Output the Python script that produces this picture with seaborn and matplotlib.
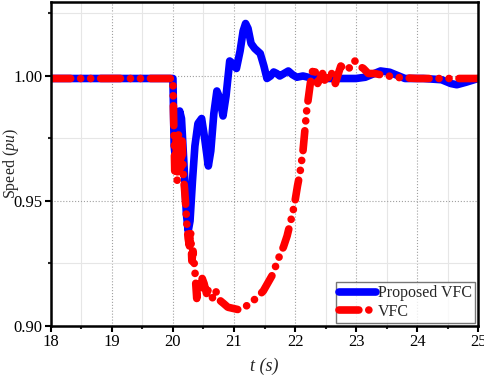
import pandas as pd
import seaborn as sns
import matplotlib.pyplot as plt
from matplotlib.ticker import MultipleLocator

# values
t_prop = [18.0, 20.0, 20.02, 20.05, 20.08, 20.11, 20.14, 20.18, 20.22, 20.25,
          20.28, 20.32, 20.36, 20.41, 20.47, 20.52, 20.58, 20.62, 20.67, 20.72,
          20.77, 20.82, 20.87, 20.93, 20.98, 21.04, 21.1, 21.15, 21.19, 21.23,
          21.28, 21.34, 21.43, 21.49, 21.54, 21.6, 21.65, 21.7, 21.75, 21.82,
          21.89, 21.96, 22.03, 22.13, 22.3, 22.6, 23.0, 23.15, 23.3, 23.4,
          23.55, 23.8, 24.1, 24.4, 24.55, 24.65, 24.8, 25.0]
speed_prop = [0.999, 0.999, 0.972, 0.965, 0.978, 0.986, 0.983, 0.965, 0.945, 0.938,
              0.942, 0.958, 0.972, 0.981, 0.983, 0.975, 0.964, 0.970, 0.985, 0.994,
              0.991, 0.984, 0.992, 1.006, 1.005, 1.003, 1.010, 1.018, 1.021, 1.019,
              1.013, 1.011, 1.009, 1.004, 0.999, 1.000, 1.0016, 1.001, 1.000, 1.001,
              1.002, 1.0005, 0.9995, 1.000, 0.999, 0.999, 0.999, 0.9995, 1.001, 1.002,
              1.0015, 0.999, 0.999, 0.9985, 0.997, 0.9965, 0.9975, 0.999]

t_vfc = [18.0, 20.0, 20.01, 20.03, 20.05, 20.07, 20.09, 20.11, 20.13, 20.15,
         20.17, 20.19, 20.21, 20.23, 20.25, 20.27, 20.29, 20.31, 20.33, 20.36,
         20.39, 20.42, 20.45, 20.48, 20.51, 20.55, 20.58, 20.62, 20.66, 20.7,
         20.74, 20.78, 20.83, 20.9, 20.99, 21.08, 21.18, 21.25, 21.31, 21.4,
         21.48, 21.55, 21.62, 21.7, 21.76, 21.81, 21.87, 21.92, 21.96, 22.0,
         22.04, 22.08, 22.13, 22.19, 22.25, 22.3, 22.34, 22.37, 22.41, 22.45,
         22.49, 22.52, 22.55, 22.58, 22.62, 22.66, 22.71, 22.75, 22.8, 22.85,
         22.9, 22.98, 23.05, 23.12, 23.2, 23.3, 23.4, 23.5, 23.6, 23.75,
         24.0, 24.5, 25.0]
speed_vfc = [0.999, 0.999, 0.985, 0.962, 0.975, 0.958, 0.977, 0.970, 0.962, 0.974,
             0.960, 0.955, 0.948, 0.940, 0.935, 0.932, 0.938, 0.926, 0.930, 0.922,
             0.911, 0.918, 0.915, 0.919, 0.917, 0.913, 0.9145, 0.912, 0.911, 0.914,
             0.912, 0.910, 0.909, 0.9075, 0.907, 0.9065, 0.9075, 0.909, 0.910, 0.912,
             0.914, 0.917, 0.920, 0.925, 0.929, 0.9316, 0.936, 0.941, 0.945, 0.950,
             0.956, 0.961, 0.970, 0.986, 0.997, 1.0036, 1.001, 0.997, 0.999, 1.001,
             0.998, 0.997, 1.000, 1.002, 1.000, 0.997, 1.001, 1.004, 1.003, 1.004,
             1.003, 1.006, 1.004, 1.003, 1.001, 1.001, 1.0005, 1.0003, 0.9995, 0.9993,
             0.999, 0.999, 0.999]

sns.set_style("white")
plt.rcParams['font.family'] = ['Liberation Serif', 'DejaVu Serif']
plt.rcParams['mathtext.fontset'] = 'custom'
plt.rcParams['mathtext.it'] = 'Liberation Serif:italic'
plt.rcParams['mathtext.rm'] = 'Liberation Serif'

df_prop = pd.DataFrame({'t': t_prop, 'speed': speed_prop})
df_vfc = pd.DataFrame({'t': t_vfc, 'speed': speed_vfc})

fig = plt.figure(figsize=(4.84, 3.75), dpi=100)
ax = fig.add_axes([0.105, 0.1307, 0.883, 0.864])

sns.lineplot(data=df_prop, x='t', y='speed', color='#0000ff', lw=5.5,
             label='Proposed VFC', estimator=None, sort=False, ax=ax)
sns.lineplot(data=df_vfc, x='t', y='speed', color='#ff0000', lw=5.5,
             label='VFC', estimator=None, sort=False, ax=ax)

dash = (2.6, 1.3, 0.01, 1.3, 0.01, 1.3)
red = ax.get_lines()[1]
red.set_dashes(dash)
red.set_dash_capstyle('round')
ax.get_lines()[0].set_solid_capstyle('round')

ax.set_xlim(18, 25)
ax.set_ylim(0.90, 1.0296)
ax.xaxis.set_major_locator(MultipleLocator(1))
ax.xaxis.set_minor_locator(MultipleLocator(0.5))
ax.yaxis.set_major_locator(MultipleLocator(0.05))
ax.yaxis.set_minor_locator(MultipleLocator(0.025))
ax.yaxis.set_major_formatter(plt.FormatStrFormatter('%.2f'))

ax.grid(which='major', color='#a0a0a0', linestyle=':', lw=0.8)
ax.grid(which='minor', color='#e6e6e6', linestyle='-', lw=0.8)
ax.set_axisbelow(True)

for s in ax.spines.values():
    s.set_linewidth(1.8)
    s.set_color('black')
ax.tick_params(which='major', direction='out', length=4, width=1.5, pad=2,
               labelsize=12, bottom=True, left=True, colors='black')
ax.tick_params(which='minor', direction='out', length=2.5, width=1.5,
               bottom=True, left=True)

ax.set_xlabel('t (s)', fontsize=13, fontstyle='italic', labelpad=5)
ax.set_ylabel('')
# y label placed in figure coords so it stays inside the left edge
fig.text(0.002, 0.563, r'Speed $\mathit{(pu)}$', fontsize=11.5,
         rotation=90, ha='left', va='center')

leg = ax.legend(loc='lower right', fontsize=11.5, frameon=True, fancybox=False,
                edgecolor='#555555', handlelength=2.3, handletextpad=0.1,
                borderpad=0.2, labelspacing=0.15, borderaxespad=0.2)
leg.get_frame().set_linewidth(1.0)
legl = leg.get_lines()
legl[1].set_dashes(dash)
legl[1].set_dash_capstyle('round')
legl[0].set_solid_capstyle('round')

fig.savefig('out.png', dpi=100)
